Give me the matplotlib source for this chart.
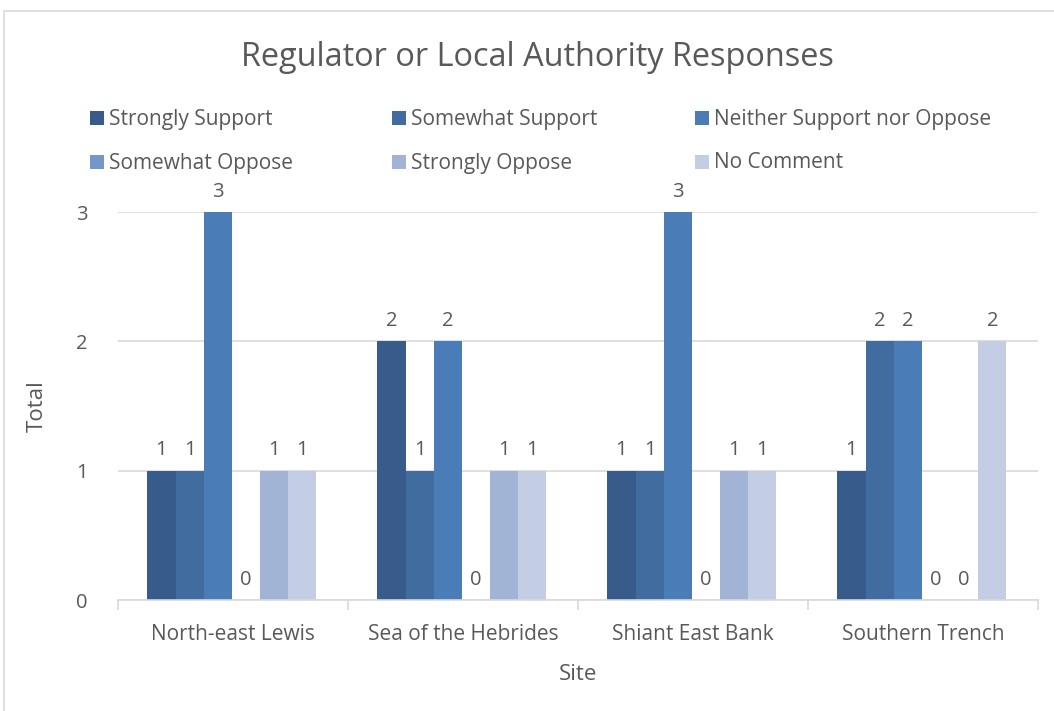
import matplotlib
matplotlib.use("Agg")
import matplotlib.pyplot as plt
import numpy as np
from matplotlib.patches import Rectangle

sites = ["North-east Lewis", "Sea of the Hebrides", "Shiant East Bank", "Southern Trench"]
series = ["Strongly Support", "Somewhat Support", "Neither Support nor Oppose",
          "Somewhat Oppose", "Strongly Oppose", "No Comment"]
strongly_support = [1, 2, 1, 1]
somewhat_support = [1, 1, 1, 2]
neither = [3, 2, 3, 2]
somewhat_oppose = [0, 0, 0, 0]
strongly_oppose = [1, 1, 1, 0]
no_comment = [1, 1, 1, 2]
values = [strongly_support, somewhat_support, neither, somewhat_oppose, strongly_oppose, no_comment]
colors = ["#375B8A", "#416C9F", "#4A7CB7", "#7596C9", "#A2B4D5", "#C3CDE3"]

plt.rcParams['font.family'] = ['Open Sans', 'DejaVu Sans']
txt = "#595959"
grid = "#D9D9D9"

fig = plt.figure(figsize=(10.54, 7.11), dpi=100)
ax = fig.add_axes([118/1054, 1-600/711, 920/1054, (600-212)/711])

x = np.arange(len(sites))
w = 0.1225
for i, (s, v, c) in enumerate(zip(series, values, colors)):
    pos = x + (i - 2.5) * w - 0.005
    ax.bar(pos, v, width=w, color=c, label=s, zorder=2)
    for p, val in zip(pos, v):
        ax.text(p, val + 0.08, str(val), ha='center', va='bottom', fontsize=14.5,
                color=txt, clip_on=False)

ax.set_xlim(-0.5, 3.5)
ax.set_ylim(0, 3)
ax.set_yticks([0, 1, 2, 3])
ax.yaxis.grid(True, color=grid, linewidth=1.2, zorder=0)
ax.set_axisbelow(True)
for sp in ["top", "right", "left"]:
    ax.spines[sp].set_visible(False)
ax.spines["bottom"].set_color(grid)
ax.spines["bottom"].set_linewidth(1.2)
ax.tick_params(axis='y', length=0, labelsize=14.5, labelcolor=txt, pad=22)
ax.set_xticks(x)
ax.set_xticklabels(sites, fontsize=15, color=txt)
ax.tick_params(axis='x', length=0, pad=17)
ax.set_xticks(np.arange(-0.5, 4, 1), minor=True)
ax.tick_params(axis='x', which='minor', length=7, color=grid, width=1.2)

ax.set_xlabel("Site", fontsize=16, color=txt, labelpad=14)
ax.set_ylabel("Total", fontsize=16, color=txt, labelpad=20)

fig.text(537/1054, 1-57/711, "Regulator or Local Authority Responses", ha='center', va='center',
         fontsize=23.4, color=txt)

lx = [90, 392, 695]
ly = [119, 163]
for i, (s, c) in enumerate(zip(series, colors)):
    col = i % 3
    row = i // 3
    fig.patches.append(Rectangle(((lx[col]) / 1054, 1 - (ly[row] + 6) / 711), 14/1054, 14/711,
                                 transform=fig.transFigure, facecolor=c, edgecolor='none'))
    fig.text((lx[col] + 19) / 1054, 1 - ly[row] / 711, s, ha='left', va='center',
             fontsize=15, color=txt)

fig.patches.append(Rectangle((4/1054, -0.1), 1.2, 1.1 - 11/711, transform=fig.transFigure,
                             facecolor='none', edgecolor=grid, linewidth=1.2))

fig.savefig("out.png", dpi=100)
